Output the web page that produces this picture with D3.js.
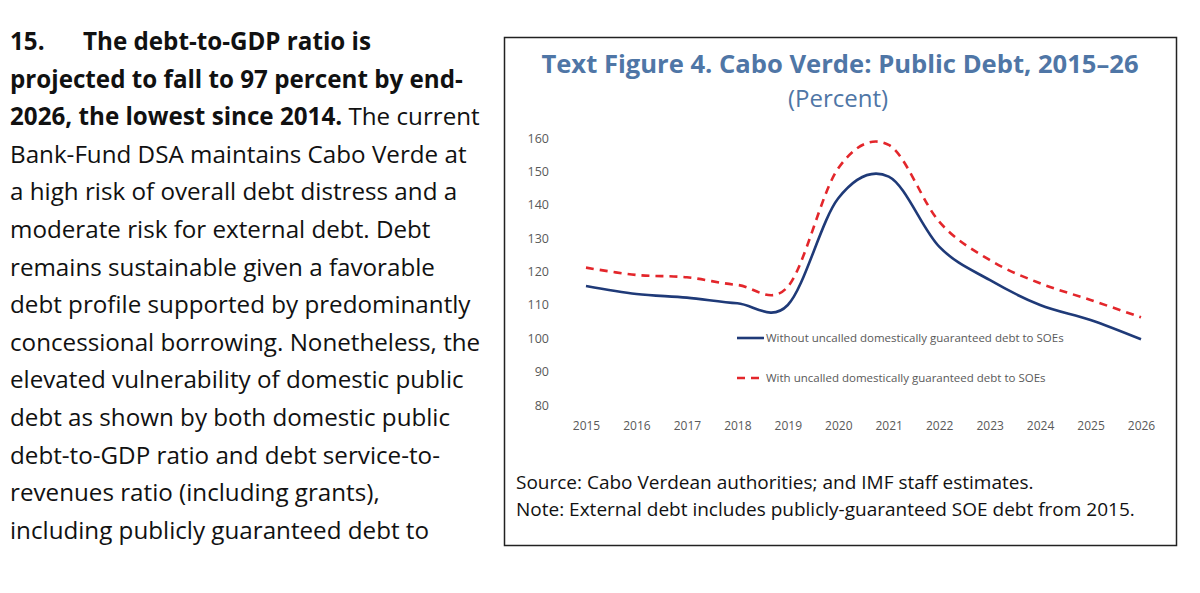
<!DOCTYPE html>
<html>

<head>
    <title>Cabo Verde Public Debt</title>
    <script src="https://d3js.org/d3.v7.min.js"></script>
    <style>
        body { margin: 0; background: #fff; }
        svg { display: block; }
    </style>
</head>

<body>
    <div id="chart"></div>

    <script>
        // Data
        const years = [2015, 2016, 2017, 2018, 2019, 2020, 2021, 2022, 2023, 2024, 2025, 2026];
        const withoutUncalled = [115.7, 113.3, 112.2, 110.5, 110.0, 142.0, 148.5, 127.5, 117.5, 110.0, 105.5, 99.7];
        const withUncalled = [121.2, 119.0, 118.3, 116.0, 115.5, 151.0, 158.0, 135.0, 123.5, 116.5, 111.5, 106.3];
        const yTicks = [80, 90, 100, 110, 120, 130, 140, 150, 160];

        const seriesNames = ['Without uncalled domestically guaranteed debt to SOEs',
                             'With uncalled domestically guaranteed debt to SOEs'];

        const titleText = 'Text Figure 4. Cabo Verde: Public Debt, 2015\u201326';
        const subtitleText = '(Percent)';
        const sourceText = 'Source: Cabo Verdean authorities; and IMF staff estimates.';
        const noteText = 'Note: External debt includes publicly-guaranteed SOE debt from 2015.';

        // paragraph lines: [bold part, normal part]
        const paraLines = [
            ['The debt-to-GDP ratio is', ''],
            ['projected to fall to 97 percent by end-', ''],
            ['2026, the lowest since 2014.', ' The current'],
            ['', 'Bank-Fund DSA maintains Cabo Verde at'],
            ['', 'a high risk of overall debt distress and a'],
            ['', 'moderate risk for external debt. Debt'],
            ['', 'remains sustainable given a favorable'],
            ['', 'debt profile supported by predominantly'],
            ['', 'concessional borrowing. Nonetheless, the'],
            ['', 'elevated vulnerability of domestic public'],
            ['', 'debt as shown by both domestic public'],
            ['', 'debt-to-GDP ratio and debt service-to-'],
            ['', 'revenues ratio (including grants),'],
            ['', 'including publicly guaranteed debt to']
        ];

        const width = 1200;
        const height = 593;
        const font = "'Open Sans', 'Noto Sans', sans-serif";

        const svg = d3.select('#chart').append('svg')
                      .attr('width', width)
                      .attr('height', height)
                      .style('font-family', font);

        svg.append('rect')
           .attr('width', width)
           .attr('height', height)
           .attr('fill', '#fff');

        // Left paragraph
        const para = svg.append('g');
        paraLines.forEach((l, i) => {
            const t = para.append('text')
                          .attr('x', 10)
                          .attr('y', 50 + i * 37.6)
                          .attr('font-size', 24.2)
                          .attr('fill', '#111');
            if (i === 0) {
                t.append('tspan').attr('font-weight', 'bold').text('15.');
                t.append('tspan').attr('x', 83).attr('font-weight', 'bold').text(l[0]);
            } else {
                if (l[0]) t.append('tspan').attr('font-weight', 'bold').text(l[0]);
                if (l[1]) t.append('tspan').style('white-space', 'pre').text(l[1]);
            }
        });

        // Figure box
        svg.append('rect')
           .attr('x', 504.5)
           .attr('y', 37.5)
           .attr('width', 672)
           .attr('height', 508)
           .attr('fill', 'none')
           .attr('stroke', '#222')
           .attr('stroke-width', 1.5);

        svg.append('text')
           .attr('x', 840)
           .attr('y', 73)
           .attr('text-anchor', 'middle')
           .attr('font-size', 25.6)
           .attr('font-weight', 'bold')
           .attr('fill', '#4f76a6')
           .text(titleText);

        svg.append('text')
           .attr('x', 838)
           .attr('y', 107)
           .attr('text-anchor', 'middle')
           .attr('font-size', 24)
           .attr('fill', '#4f76a6')
           .text(subtitleText);

        // Scales
        const xScale = d3.scaleLinear()
                         .domain([2015, 2026])
                         .range([586, 1141]);

        const yScale = d3.scaleLinear()
                         .domain([80, 160])
                         .range([405, 138.3]);

        // Axes (labels only)
        const yAxis = svg.append('g')
                         .attr('transform', 'translate(549,0)')
                         .call(d3.axisLeft(yScale).tickValues(yTicks).tickSize(0).tickPadding(0));
        yAxis.select('.domain').remove();
        yAxis.selectAll('text')
             .attr('font-family', font)
             .attr('font-size', 12.5)
             .attr('fill', '#595959');

        const xAxis = svg.append('g')
                         .attr('transform', 'translate(0,421)')
                         .call(d3.axisBottom(xScale).tickValues(years).tickFormat(d3.format('d')).tickSize(0).tickPadding(0));
        xAxis.select('.domain').remove();
        xAxis.selectAll('text')
             .attr('font-family', font)
             .attr('font-size', 12)
             .attr('fill', '#595959');

        // Lines
        const line = d3.line()
                       .x((d, i) => xScale(years[i]))
                       .y((d) => yScale(d))
                       .curve(d3.curveCardinal.tension(0));

        svg.append('path')
           .attr('d', line(withUncalled))
           .attr('fill', 'none')
           .attr('stroke', '#e3262b')
           .attr('stroke-width', 2.6)
           .attr('stroke-dasharray', '8,6');

        svg.append('path')
           .attr('d', line(withoutUncalled))
           .attr('fill', 'none')
           .attr('stroke', '#1f3a78')
           .attr('stroke-width', 2.6);

        // Legend
        const legend = svg.append('g');
        const legendStyles = [
            { color: '#1f3a78', dash: null, y: 338 },
            { color: '#e3262b', dash: '8,6', y: 378 }
        ];
        seriesNames.forEach((name, i) => {
            const s = legendStyles[i];
            legend.append('line')
                  .attr('x1', 737)
                  .attr('x2', 764)
                  .attr('y1', s.y)
                  .attr('y2', s.y)
                  .attr('stroke', s.color)
                  .attr('stroke-width', 2.6)
                  .attr('stroke-dasharray', s.dash);
            legend.append('text')
                  .attr('x', 766)
                  .attr('y', s.y + 4)
                  .attr('font-size', 11.5)
                  .attr('fill', '#595959')
                  .text(name);
        });

        // Source / note
        svg.append('text')
           .attr('x', 516)
           .attr('y', 489)
           .attr('font-size', 19)
           .attr('fill', '#111')
           .text(sourceText);

        svg.append('text')
           .attr('x', 516)
           .attr('y', 516)
           .attr('font-size', 19)
           .attr('fill', '#111')
           .text(noteText);
    </script>
</body>

</html>
